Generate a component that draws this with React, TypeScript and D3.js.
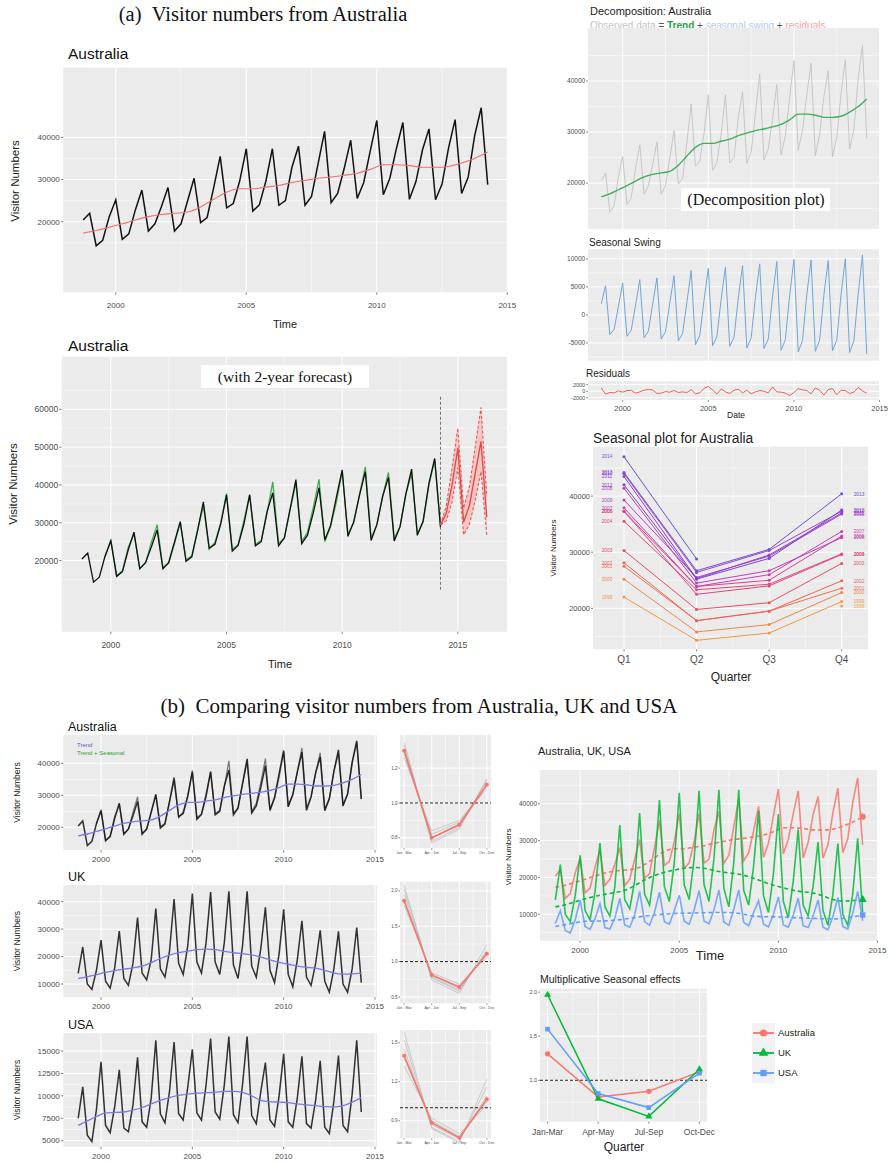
import React from 'react';
import * as d3 from 'd3';

// quarterly series start at 1998 Q4
const START = 1998.75;

const australia = [
  20400,
  22000, 14300, 15600, 21200,
  25200, 15800, 17100, 22800,
  27500, 17800, 19500, 23600,
  28100, 17800, 19500, 24900,
  30300, 19800, 21000, 28000,
  35500, 23300, 24300, 29700,
  37300, 22500, 24000, 29600,
  37300, 23900, 25000, 32900,
  37900, 23900, 26000, 33700,
  41400, 24500, 26700, 32600,
  39300, 25500, 29300, 36800,
  44000, 26400, 30300, 37300,
  43500, 25300, 29500, 37000,
  42000, 25200, 28900, 37500,
  44200, 26700, 30500, 40400,
  47000, 28800,
];

const uk = [
  13900,
  23500, 10000, 8000, 15000,
  26000, 11000, 8500, 16000,
  29300, 12000, 9500, 17500,
  34200, 14000, 11500, 19000,
  37500, 15500, 12500, 22000,
  41000, 17500, 13500, 24000,
  43000, 18000, 14000, 25000,
  43500, 18000, 13500, 25000,
  43800, 17000, 12000, 24000,
  43800, 16500, 12500, 23000,
  38000, 15000, 10500, 21000,
  37200, 13500, 9000, 19000,
  33000, 12500, 9500, 17500,
  29600, 11000, 7000, 15500,
  29200, 10000, 7000, 15500,
  30600, 10500,
];

const usa = [
  7500,
  11000, 5600, 4900, 8500,
  13800, 6700, 5900, 8800,
  12900, 6400, 6000, 9000,
  14300, 7100, 6500, 9800,
  16200, 8000, 7000, 10500,
  16000, 8000, 7300, 11000,
  15200, 8100, 7300, 11200,
  16400, 8200, 7400, 11200,
  16600, 7900, 7000, 11300,
  16600, 7800, 6900, 10500,
  13700, 7300, 6600, 10000,
  14700, 7100, 6500, 9800,
  14400, 6900, 6400, 9500,
  13900, 6500, 5800, 9400,
  14500, 6700, 6000, 10200,
  16200, 8200,
];

// trends, half-year steps from 1998.75
const TREND_STEP = 0.5;
const ausTrend = [17300, 17900, 18700, 19500, 20400, 21200, 21700, 22000, 22300, 23500, 25300, 27000,
  27800, 27800, 28200, 28600, 29300, 29800, 30300, 30600, 31000, 31500, 32400, 33500,
  33500, 33300, 32900, 32900, 33100, 33900, 35000, 36500];
const ukTrend = [12000, 12600, 13400, 14200, 14900, 15400, 15900, 16500, 17800, 19300, 20500, 21400,
  22000, 22500, 22700, 22500, 21900, 21400, 21100, 20600, 19800, 18800, 17900, 17200,
  16500, 16100, 15800, 15000, 14000, 13600, 13700, 14000];
const usaTrend = [6700, 7200, 7700, 8100, 8150, 8200, 8400, 8700, 9100, 9500, 9800, 10050,
  10200, 10300, 10350, 10400, 10500, 10500, 10400, 10000, 9500, 9350, 9300, 9250,
  9100, 9000, 8900, 8800, 8750, 8900, 9300, 9800];

// fitted values (trend + seasonal), from 1999 Q4
const FIT_START = 1999.75;
const ausFitted = [
  21000,
  25500, 16000, 17300, 23500,
  27000, 18000, 19300, 24800,
  29500, 18200, 19300, 24500,
  30000, 20200, 21300, 28000,
  34500, 23000, 24800, 30000,
  37800, 23000, 24200, 30500,
  37500, 24300, 25300, 32500,
  40800, 24500, 26000, 33500,
  40500, 25000, 27500, 34000,
  41500, 25000, 29000, 35500,
  43500, 27000, 30000, 37500,
  44800, 26000, 29500, 37000,
  43300, 25800, 29000, 37500,
  43000, 27000, 30200, 40000,
  46500, 29000,
];

const seasonalSwing = [
  2000,
  5200, -3500, -2600, 1500,
  5700, -3800, -2700, 1700,
  6300, -4100, -2900, 1900,
  6600, -4300, -3000, 2100,
  7000, -4600, -3300, 2300,
  7900, -5300, -3700, 2600,
  8300, -5500, -3900, 2800,
  8500, -5600, -4000, 3000,
  8800, -5900, -4100, 3100,
  9100, -6000, -4300, 3300,
  9500, -6300, -4400, 3500,
  9900, -6600, -4600, 3600,
  9800, -6500, -4500, 3600,
  9700, -6400, -4500, 3600,
  10000, -6700, -4600, 3700,
  10700, -7000,
];

const residuals = [
  1000, -900, -400, -500, 100, -300, 200, 300, -600, -200,
  300, 500, 400, -700, -600, -100, -300, 200, -400, -200,
  -400, 500, -800, -500, 900, 1400, 400, -900, 700, -200,
  -700, 300, 600, -500, 300, -800, -200, 200, 0, -500,
  1300, -200, -300, -600, -1300, -400, 800, 400, 200, -800,
  1000, 300, -1200, 500, 800, -1100, 300, 200, -700, -300,
  1100, 100, -600,
];

// 2-year forecast
const fcTimes = [2014.25, 2014.5, 2014.75, 2015, 2015.25, 2015.5, 2015.75, 2016, 2016.25];
const fcMean = [29400, 32500, 40000, 49800, 30200, 34500, 43000, 51500, 31500];
const fcLower = [29400, 30500, 35500, 44500, 26800, 29500, 36000, 43500, 26800];
const fcUpper = [29400, 34500, 44500, 55000, 33800, 39500, 50000, 60500, 37000];

const quarterLabels = ['Q1', 'Q2', 'Q3', 'Q4'];
const effectLabels = ['Jan-Mar', 'Apr-May', 'Jul-Sep', 'Oct-Dec'];
const subLabels = ['Jan - Mar', 'Apr - Jun', 'Jul - Sep', 'Oct - Dec'];

const ausEffect = [1.30, 0.81, 0.875, 1.095];
const ukEffect = [1.97, 0.79, 0.59, 1.125];
const usaEffect = [1.58, 0.85, 0.69, 1.08];

const ausSub = [1.30, 0.80, 0.875, 1.105];
const ukSub = [1.86, 0.81, 0.64, 1.11];
const usaSub = [1.40, 0.885, 0.77, 1.065];
const ausSubYears = [
  [1.26, 0.84, 0.90, 1.08], [1.28, 0.82, 0.89, 1.10], [1.31, 0.80, 0.88, 1.12],
  [1.33, 0.78, 0.86, 1.13], [1.35, 0.77, 0.85, 1.14],
];
const ukSubYears = [
  [1.80, 0.84, 0.68, 1.06], [1.86, 0.80, 0.62, 1.10], [1.95, 0.77, 0.58, 1.16],
  [2.08, 0.74, 0.55, 1.24], [2.02, 0.78, 0.60, 1.14],
];
const usaSubYears = [
  [1.32, 0.92, 0.80, 1.02], [1.38, 0.90, 0.78, 1.05], [1.45, 0.87, 0.76, 1.09],
  [1.52, 0.85, 0.74, 1.16], [1.58, 0.84, 0.73, 1.22],
];

const SANS = 'Liberation Sans, Arial, Helvetica, sans-serif';
const SERIF = 'Liberation Serif, Times New Roman, serif';
const BG = '#EBEBEB';
const TICK = '#4D4D4D';
const RED = '#F8766D';
const GREEN = '#00BA38';
const BLUE = '#619CFF';
const NB = '\u00A0';

const series = (vals: number[], t0: number, step: number) => vals.map((v, i) => [t0 + i * step, v]);

function mkLine(x: any, y: any, curve: any = d3.curveLinear) {
  return d3.line<number[]>().x(d => x(d[0])).y(d => y(d[1])).curve(curve);
}

function inDomain(s: any, v: number) {
  const [a, b] = s.domain();
  return v >= Math.min(a, b) - 1e-9 && v <= Math.max(a, b) + 1e-9;
}

function Axes(p: any) {
  const { x, y, xTicks = [], yTicks = [], xMinor = [], yMinor = [],
    xFmt = (v: number) => String(v), yFmt = (v: number) => String(v),
    xFont = 8, yFont = 8, xGap = 10, showX = true, tickLen = 2.5 } = p;
  const [x0, x1] = x.range();
  const [yb, yt] = y.range();
  const ym = yMinor.filter((v: number) => inDomain(y, v));
  const xm = xMinor.filter((v: number) => inDomain(x, v));
  const yt2 = yTicks.filter((v: number) => inDomain(y, v));
  const xt2 = xTicks.filter((v: number) => inDomain(x, v));
  return (
    <g>
      <rect x={x0} y={yt} width={x1 - x0} height={yb - yt} fill={BG} />
      {ym.map((v: number, i: number) => <line key={'ym' + i} x1={x0} x2={x1} y1={y(v)} y2={y(v)} stroke="#fff" strokeWidth={0.5} />)}
      {xm.map((v: number, i: number) => <line key={'xm' + i} x1={x(v)} x2={x(v)} y1={yt} y2={yb} stroke="#fff" strokeWidth={0.5} />)}
      {yt2.map((v: number, i: number) => <line key={'yg' + i} x1={x0} x2={x1} y1={y(v)} y2={y(v)} stroke="#fff" strokeWidth={1} />)}
      {xt2.map((v: number, i: number) => <line key={'xg' + i} x1={x(v)} x2={x(v)} y1={yt} y2={yb} stroke="#fff" strokeWidth={1} />)}
      {yt2.map((v: number, i: number) => (
        <g key={'yl' + i}>
          <line x1={x0 - tickLen} x2={x0} y1={y(v)} y2={y(v)} stroke="#333" strokeWidth={0.6} />
          <text x={x0 - tickLen - 1} y={y(v)} dy="0.35em" textAnchor="end" fontSize={yFont} fill={TICK}>{yFmt(v)}</text>
        </g>
      ))}
      {showX && xt2.map((v: number, i: number) => (
        <g key={'xl' + i}>
          <line x1={x(v)} x2={x(v)} y1={yb} y2={yb + tickLen} stroke="#333" strokeWidth={0.6} />
          <text x={x(v)} y={yb + xGap} textAnchor="middle" fontSize={xFont} fill={TICK}>{xFmt(v)}</text>
        </g>
      ))}
    </g>
  );
}

function VLabel({ x, y, size, children }: any) {
  return <text transform={`translate(${x},${y}) rotate(-90)`} textAnchor="middle" fontSize={size} fill="#222">{children}</text>;
}

const yearTicks = [2000, 2005, 2010, 2015];
const yearMinor = [1997.5, 2002.5, 2007.5, 2012.5, 2017.5];

function SmallEffect({ y0, y1, dom, ticks, red, greys, fmt }: any) {
  const x = d3.scaleLinear().domain([0.85, 4.15]).range([400, 491]);
  const y = d3.scaleLinear().domain(dom).range([y1, y0]);
  const ln = mkLine(x, y);
  const minor = ticks.slice(1).map((t: number, i: number) => (t + ticks[i]) / 2);
  return (
    <g>
      <Axes x={x} y={y} xTicks={[1, 2, 3, 4]} yTicks={ticks} yMinor={minor} xMinor={[1.5, 2.5, 3.5]}
        yFmt={fmt} yFont={4.5} showX={false} tickLen={1.5} />
      {[1, 2, 3, 4].map((q, i) => (
        <g key={q}>
          <line x1={x(q)} x2={x(q)} y1={y1} y2={y1 + 1.5} stroke="#333" strokeWidth={0.5} />
          <text x={x(q)} y={y1 + 5.5} textAnchor="middle" fontSize={3.6} fill={TICK}>{subLabels[i]}</text>
        </g>
      ))}
      {greys.map((g: number[], i: number) => (
        <path key={i} d={ln(g.map((v, j) => [j + 1, v])) || ''} fill="none" stroke="#9a9a9a" strokeOpacity={0.55} strokeWidth={0.8} />
      ))}
      <line x1={x.range()[0]} x2={x.range()[1]} y1={y(1)} y2={y(1)} stroke="#222" strokeWidth={1} strokeDasharray="3,2" />
      <path d={ln(red.map((v: number, j: number) => [j + 1, v])) || ''} fill="none" stroke={RED} strokeWidth={1.6} />
      {red.map((v: number, j: number) => <circle key={j} cx={x(j + 1)} cy={y(v)} r={2} fill={RED} />)}
    </g>
  );
}

function BottomSeries({ y0, y1, dom, ticks, data, trend, title, fitted }: any) {
  const x = d3.scaleLinear().domain([1997.935, 2015.11]).range([63.3, 377]);
  const y = d3.scaleLinear().domain(dom).range([y1, y0]);
  const ln = mkLine(x, y);
  const tl = mkLine(x, y, d3.curveMonotoneX);
  const minor = ticks.slice(1).map((t: number, i: number) => (t + ticks[i]) / 2);
  return (
    <g>
      <text x={68} y={y0 - 4} fontSize={12.5} fill="#111">{title}</text>
      <Axes x={x} y={y} xTicks={yearTicks} yTicks={ticks} xMinor={yearMinor} yMinor={minor}
        xFont={8} yFont={8} xGap={12} />
      {fitted && <path d={ln(fitted) || ''} fill="none" stroke="#777" strokeWidth={1.2} />}
      <path d={ln(series(data, START, 0.25)) || ''} fill="none" stroke="#111" strokeOpacity={0.85} strokeWidth={1.5} />
      <path d={tl(series(trend, START, TREND_STEP)) || ''} fill="none" stroke="#7B7BE0" strokeWidth={1.3} />
      <VLabel x={20} y={(y0 + y1) / 2} size={8.5}>Visitor Numbers</VLabel>
    </g>
  );
}

export default function App() {
  // (a) top-left
  const xA = d3.scaleLinear().domain([1997.99, 2015.0]).range([63.3, 507.3]);
  const yA = d3.scaleLinear().domain([3270, 56500]).range([292.3, 67.7]);
  const lnA = mkLine(xA, yA);
  const trA = mkLine(xA, yA, d3.curveMonotoneX);

  // forecast panel
  const xF = d3.scaleLinear().domain([1997.875, 2017.125]).range([61.7, 507]);
  const yF = d3.scaleLinear().domain([1200, 73900]).range([631.7, 356.7]);
  const lnF = mkLine(xF, yF);
  const bandF = d3.area<number>().x((_, i) => xF(fcTimes[i])).y0((_, i) => yF(fcLower[i])).y1((_, i) => yF(fcUpper[i]));

  // decomposition
  const xD = d3.scaleLinear().domain([1997.975, 2015.025]).range([588, 880]);
  const yD1 = d3.scaleLinear().domain([11000, 50400]).range([229, 28]);
  const yD2 = d3.scaleLinear().domain([-8160, 11700]).range([360.7, 249.3]);
  const yD3 = d3.scaleLinear().domain([-2710, 3140]).range([400, 381]);

  // seasonal plot
  const xS = d3.scaleLinear().domain([1, 4]).range([624, 841.7]);
  const yS = d3.scaleLinear().domain([12700, 48800]).range([649.3, 446.7]);
  const lnS = mkLine(xS, yS);
  const yearColor = d3.scaleLinear<string>()
    .domain([1998, 2003, 2006, 2009, 2012, 2014])
    .range(['#F5A83E', '#E8505C', '#D8409A', '#B13FCB', '#7E44D6', '#5B5BD0']);
  const ausPts = australia.map((v, i) => {
    const t = START + i * 0.25;
    const yr = Math.floor(t + 1e-6);
    return { yr, q: Math.round((t - yr) * 4) + 1, v };
  });
  const byYear = d3.groups(ausPts, d => d.yr);

  // combined
  const xC = d3.scaleLinear().domain([1997.975, 2015.025]).range([540, 878]);
  const yC = d3.scaleLinear().domain([2830, 49160]).range([940.7, 770]);
  const lnC = mkLine(xC, yC);
  const trC = mkLine(xC, yC, d3.curveMonotoneX);
  const countries = [
    { name: 'Australia', data: australia, trend: ausTrend, color: RED, sym: d3.symbolCircle, eff: ausEffect },
    { name: 'UK', data: uk, trend: ukTrend, color: GREEN, sym: d3.symbolTriangle, eff: ukEffect },
    { name: 'USA', data: usa, trend: usaTrend, color: BLUE, sym: d3.symbolSquare, eff: usaEffect },
  ];

  // multiplicative effects
  const xM = d3.scaleLinear().domain([0.85, 4.15]).range([540, 707]);
  const yM = d3.scaleLinear().domain([0.53, 2.04]).range([1121.7, 988.6]);
  const lnM = mkLine(xM, yM);

  const f1 = d3.format('.1f');
  const tEnd = START + (australia.length - 1) * 0.25;

  return (
    <svg width={891} height={1164} style={{ position: 'absolute', left: 0, top: 0, background: '#fff' }} fontFamily={SANS}>
      {/* ---------- (a) ---------- */}
      <text x={263} y={21} textAnchor="middle" fontFamily={SERIF} fontSize={20.5} fill="#111">{`(a)${NB}${NB}Visitor numbers from Australia`}</text>

      <text x={68} y={59} fontSize={15.5} fill="#111">Australia</text>
      <Axes x={xA} y={yA} xTicks={yearTicks} yTicks={[20000, 30000, 40000]} xMinor={yearMinor}
        yMinor={[15000, 25000, 35000]} xFont={8} yFont={8} xGap={16} />
      <path d={lnA(series(australia, START, 0.25)) || ''} fill="none" stroke="#111" strokeWidth={1.5} />
      <path d={trA(series(ausTrend, START, TREND_STEP)) || ''} fill="none" stroke="#F07070" strokeWidth={1.1} />
      <VLabel x={19} y={181} size={11.5}>Visitor Numbers</VLabel>
      <text x={285} y={328} textAnchor="middle" fontSize={11} fill="#222">Time</text>

      <text x={68} y={351} fontSize={15.5} fill="#111">Australia</text>
      <Axes x={xF} y={yF} xTicks={yearTicks} yTicks={[20000, 30000, 40000, 50000, 60000]} xMinor={yearMinor}
        yMinor={[15000, 25000, 35000, 45000, 55000, 65000]} xFont={8.5} yFont={8.5} xGap={16} />
      <rect x={201} y={365} width={168} height={23} fill="#fff" />
      <text x={285} y={382} textAnchor="middle" fontFamily={SERIF} fontSize={15.5} fill="#111">(with 2-year forecast)</text>
      <path d={lnF(series(ausFitted, FIT_START, 0.25)) || ''} fill="none" stroke="#3DAE4A" strokeWidth={1.3} />
      <path d={lnF(series(australia, START, 0.25)) || ''} fill="none" stroke="#111" strokeWidth={1.3} />
      <line x1={xF(tEnd)} x2={xF(tEnd)} y1={yF(63300)} y2={yF(11800)} stroke="#555" strokeWidth={0.8} strokeDasharray="3,2" />
      <path d={bandF(fcMean) || ''} fill="#F6B8B5" fillOpacity={0.75} />
      <path d={lnF(fcTimes.map((t, i) => [t, fcUpper[i]])) || ''} fill="none" stroke="#E8585A" strokeWidth={1.1} strokeDasharray="3,2" />
      <path d={lnF(fcTimes.map((t, i) => [t, fcLower[i]])) || ''} fill="none" stroke="#E8585A" strokeWidth={1.1} strokeDasharray="3,2" />
      <path d={lnF(fcTimes.map((t, i) => [t, fcMean[i]])) || ''} fill="none" stroke="#E04848" strokeWidth={1.3} />
      <VLabel x={17} y={484} size={11.5}>Visitor Numbers</VLabel>
      <text x={280} y={668} textAnchor="middle" fontSize={11} fill="#222">Time</text>

      {/* decomposition */}
      <text x={590} y={15} fontSize={11} fill="#222">Decomposition: Australia</text>
      <text x={590} y={29} fontSize={10}>
        <tspan fill="#C4C4C4">Observed data</tspan>
        <tspan fill="#555">{`${NB}=${NB}`}</tspan>
        <tspan fill="#1FA34A" fontWeight="bold">Trend</tspan>
        <tspan fill="#555">{`${NB}+${NB}`}</tspan>
        <tspan fill="#AFCBEE">seasonal swing</tspan>
        <tspan fill="#555">{`${NB}+${NB}`}</tspan>
        <tspan fill="#F3A3A3">residuals</tspan>
      </text>
      <Axes x={xD} y={yD1} xTicks={yearTicks} yTicks={[20000, 30000, 40000]} xMinor={yearMinor}
        yMinor={[15000, 25000, 35000, 45000]} yFont={6.5} showX={false} tickLen={1.8} />
      <path d={mkLine(xD, yD1)(series(australia, START, 0.25)) || ''} fill="none" stroke="#C2C2C2" strokeWidth={0.9} />
      <path d={mkLine(xD, yD1, d3.curveMonotoneX)(series(ausTrend, START, TREND_STEP)) || ''} fill="none" stroke="#3DAE5C" strokeWidth={1.3} />
      <rect x={681} y={188} width={149} height={23} fill="#fff" />
      <text x={756} y={205} textAnchor="middle" fontFamily={SERIF} fontSize={16} fill="#111">(Decomposition plot)</text>

      <text x={589} y={246} fontSize={10} fill="#222">Seasonal Swing</text>
      <Axes x={xD} y={yD2} xTicks={yearTicks} yTicks={[-5000, 0, 5000, 10000]} xMinor={yearMinor}
        yMinor={[-7500, -2500, 2500, 7500]} yFont={6.5} showX={false} tickLen={1.8} />
      <path d={mkLine(xD, yD2)(series(seasonalSwing, START, 0.25)) || ''} fill="none" stroke="#6FA6DA" strokeWidth={1} />

      <text x={586} y={377} fontSize={10} fill="#222">Residuals</text>
      <Axes x={xD} y={yD3} xTicks={yearTicks} yTicks={[-2000, 0, 2000]} xMinor={yearMinor}
        yFont={5.5} xFont={7.5} xGap={10.5} tickLen={1.8} />
      <path d={mkLine(xD, yD3)(series(residuals, START, 0.25)) || ''} fill="none" stroke="#E8553E" strokeWidth={0.9} />
      <text x={736} y={418} textAnchor="middle" fontSize={8.5} fill="#222">Date</text>

      {/* seasonal plot */}
      <text x={593} y={443} fontSize={13.8} fill="#222">Seasonal plot for Australia</text>
      <Axes x={d3.scaleLinear().domain([0.573, 4.362]).range([593, 868])} y={yS} xTicks={[1, 2, 3, 4]}
        yTicks={[20000, 30000, 40000]} yMinor={[15000, 25000, 35000, 45000]} xMinor={[1.5, 2.5, 3.5]}
        yFont={7.5} showX={false} tickLen={2} />
      {quarterLabels.map((q, i) => (
        <g key={q}>
          <line x1={xS(i + 1)} x2={xS(i + 1)} y1={649.3} y2={651.5} stroke="#333" strokeWidth={0.6} />
          <text x={xS(i + 1)} y={663} textAnchor="middle" fontSize={10} fill={TICK}>{q}</text>
        </g>
      ))}
      {byYear.map(([yr, pts]) => (
        <g key={yr}>
          <path d={lnS(pts.map(p => [p.q, p.v])) || ''} fill="none" stroke={yearColor(yr)} strokeWidth={1} />
          {pts.map((p, j) => <circle key={j} cx={xS(p.q)} cy={yS(p.v)} r={1.5} fill={yearColor(yr)} />)}
          {pts.filter(p => p.q === 1).map(p => (
            <text key="l" x={607} y={yS(p.v)} dy="0.35em" textAnchor="middle" fontSize={4.8} fill={yearColor(yr)}>{yr}</text>
          ))}
          {pts.filter(p => p.q === 4).map(p => (
            <text key="r" x={859} y={yS(p.v)} dy="0.35em" textAnchor="middle" fontSize={4.8} fill={yearColor(yr)}>{yr}</text>
          ))}
        </g>
      ))}
      <VLabel x={556} y={548} size={8}>Visitor Numbers</VLabel>
      <text x={731} y={681} textAnchor="middle" fontSize={12} fill="#222">Quarter</text>

      {/* ---------- (b) ---------- */}
      <text x={419} y={713} textAnchor="middle" fontFamily={SERIF} fontSize={21} fill="#111">{`(b)${NB}${NB}Comparing visitor numbers from Australia, UK and USA`}</text>

      <BottomSeries y0={735} y1={850} dom={[12900, 48850]} ticks={[20000, 30000, 40000]} data={australia}
        trend={ausTrend} title="Australia" fitted={series(ausFitted, FIT_START, 0.25)} />
      <text x={77} y={747} fontSize={6} fill="#5A5ACF">Trend</text>
      <text x={77} y={755} fontSize={6} fill="#2CA02C">Trend + Seasonal</text>
      <BottomSeries y0={885} y1={997.3} dom={[5150, 46100]} ticks={[10000, 20000, 30000, 40000]} data={uk}
        trend={ukTrend} title="UK" />
      <BottomSeries y0={1033.3} y1={1146.7} dom={[4330, 16975]} ticks={[5000, 7500, 10000, 12500, 15000]} data={usa}
        trend={usaTrend} title="USA" />

      <SmallEffect y0={735} y1={848.3} dom={[0.74, 1.39]} ticks={[0.8, 1.0, 1.2]} red={ausSub} greys={ausSubYears} fmt={f1} />
      <SmallEffect y0={881.7} y1={1003.3} dom={[0.41, 2.13]} ticks={[0.5, 1.0, 1.5, 2.0]} red={ukSub} greys={ukSubYears} fmt={f1} />
      <SmallEffect y0={1030} y1={1138.3} dom={[0.765, 1.598]} ticks={[0.9, 1.2, 1.5]} red={usaSub} greys={usaSubYears} fmt={f1} />

      {/* combined */}
      <text x={538} y={755} fontSize={11} fill="#222">Australia, UK, USA</text>
      <Axes x={xC} y={yC} xTicks={yearTicks} yTicks={[10000, 20000, 30000, 40000]} xMinor={yearMinor}
        yMinor={[5000, 15000, 25000, 35000, 45000]} yFont={6.5} xFont={8} xGap={12} tickLen={2} />
      {countries.map(c => (
        <g key={c.name}>
          <path d={lnC(series(c.data, START, 0.25)) || ''} fill="none" stroke={c.color} strokeOpacity={0.85} strokeWidth={1.6} />
          <path d={trC(series(c.trend, START, TREND_STEP)) || ''} fill="none" stroke={c.color} strokeWidth={1.6} strokeDasharray="4,3" />
          <path d={d3.symbol(c.sym, 30)() || ''} transform={`translate(${xC(tEnd)},${yC(c.trend[c.trend.length - 1])})`} fill={c.color} />
        </g>
      ))}
      <VLabel x={511} y={857} size={8}>Visitor Numbers</VLabel>
      <text x={710} y={960} textAnchor="middle" fontSize={13} fill="#222">Time</text>

      {/* multiplicative seasonal effects */}
      <text x={540} y={983} fontSize={10.5} fill="#222">Multiplicative Seasonal effects</text>
      <Axes x={xM} y={yM} xTicks={[1, 2, 3, 4]} yTicks={[1.0, 1.5, 2.0]} yMinor={[0.75, 1.25, 1.75]}
        xMinor={[1.5, 2.5, 3.5]} yFmt={f1} yFont={5.5} showX={false} tickLen={1.8} />
      {effectLabels.map((q, i) => (
        <g key={q}>
          <line x1={xM(i + 1)} x2={xM(i + 1)} y1={1121.7} y2={1123.7} stroke="#333" strokeWidth={0.6} />
          <text x={xM(i + 1)} y={1135} textAnchor="middle" fontSize={8.5} fill={TICK}>{q}</text>
        </g>
      ))}
      <line x1={540} x2={707} y1={yM(1)} y2={yM(1)} stroke="#222" strokeWidth={1} strokeDasharray="3,2" />
      {countries.map(c => (
        <g key={c.name}>
          <path d={lnM(c.eff.map((v, j) => [j + 1, v])) || ''} fill="none" stroke={c.color} strokeWidth={1.5} />
          {c.eff.map((v, j) => (
            <path key={j} d={d3.symbol(c.sym, 22)() || ''} transform={`translate(${xM(j + 1)},${yM(v)})`} fill={c.color} />
          ))}
        </g>
      ))}
      <text x={624} y={1151} textAnchor="middle" fontSize={12} fill="#222">Quarter</text>

      <rect x={752} y={1023} width={23} height={60} fill="#F2F2F2" />
      {countries.map((c, i) => (
        <g key={c.name} transform={`translate(0,${1033 + i * 20})`}>
          <line x1={753} x2={774} y1={0} y2={0} stroke={c.color} strokeWidth={1.8} />
          <path d={d3.symbol(c.sym, 40)() || ''} transform="translate(763.5,0)" fill={c.color} />
          <text x={778} y={0} dy="0.35em" fontSize={9.5} fill="#222">{c.name}</text>
        </g>
      ))}
    </svg>
  );
}
